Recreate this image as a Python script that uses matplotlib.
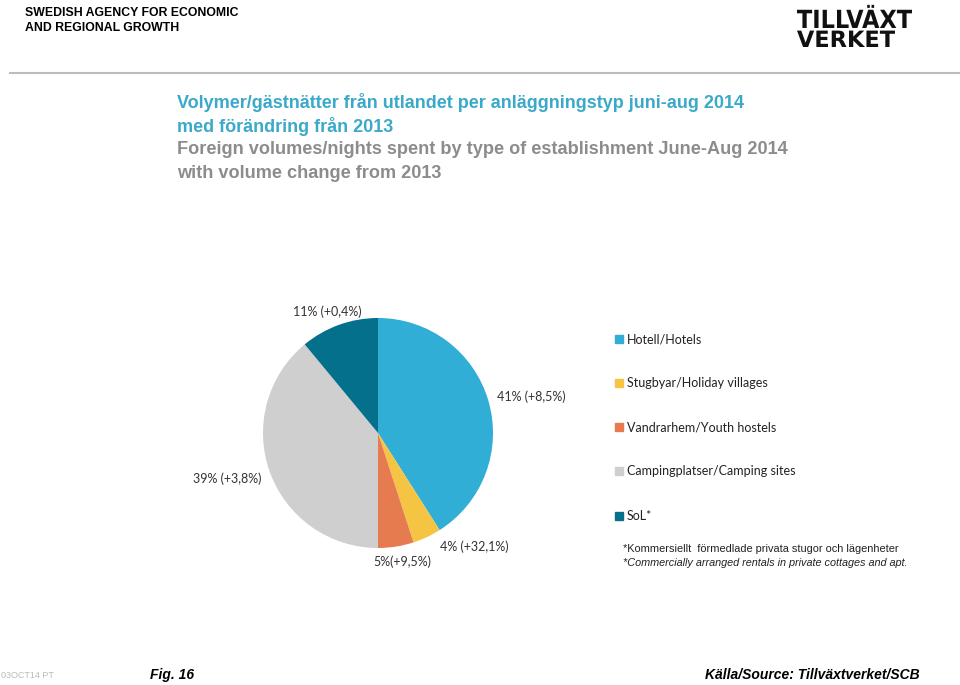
import matplotlib
matplotlib.use("Agg")
import matplotlib.pyplot as plt
from matplotlib.patches import Rectangle, PathPatch
from matplotlib.lines import Line2D
from matplotlib.textpath import TextPath
from matplotlib.font_manager import FontProperties
from matplotlib.transforms import Affine2D

# Data
categories = ["Hotell/Hotels", "Stugbyar/Holiday villages", "Vandrarhem/Youth hostels",
              "Campingplatser/Camping sites", "SoL*"]
shares = [41, 4, 5, 39, 11]
changes = ["+8,5%", "+32,1%", "+9,5%", "+3,8%", "+0,4%"]
colors = ["#31AED6", "#F6C443", "#E57B4F", "#D0CFCF", "#05708C"]

W, H = 960, 685
fig = plt.figure(figsize=(W / 100, H / 100), dpi=100)
fig.patch.set_facecolor("white")


def fx(px):
    return px / W


def fy(py):
    return 1 - py / H


body = ["Liberation Sans", "DejaVu Sans"]
calib = ["Lato", "DejaVu Sans"]

# ---- Header ----
fig.text(fx(25), fy(13), "SWEDISH AGENCY FOR ECONOMIC", family=body, fontsize=8.8,
         fontweight="bold", ha="left", va="center")
fig.text(fx(25), fy(28), "AND REGIONAL GROWTH", family=body, fontsize=8.8,
         fontweight="bold", ha="left", va="center")

# condensed logo lettering, drawn as scaled text paths
logo_prop = FontProperties(family="DejaVu Sans", weight="bold")
tp1 = TextPath((0, 0), "TILLVÄXT", size=25, prop=logo_prop)
sx = 115 / tp1.get_extents().width
for word, base, sy in [("TILLVÄXT", 28, 1.0), ("VERKET", 47, 0.9)]:
    tp = TextPath((0, 0), word, size=25, prop=logo_prop)
    x0 = tp.get_extents().x0
    tr = Affine2D().translate(-x0, 0).scale(sx, sy).translate(797, H - base)
    fig.add_artist(PathPatch(tp, transform=tr, color="#111111", lw=0))

fig.add_artist(Line2D([fx(10), fx(960)], [fy(73), fy(73)], color="#BDBDBD", lw=1.5))

# ---- Titles ----
teal = "#3BA9C9"
grey = "#8C8C8C"
fig.text(fx(177), fy(103), "Volymer/gästnätter från utlandet per anläggningstyp juni-aug 2014",
         family=body, fontsize=13, fontweight="bold", color=teal, ha="left", va="center")
fig.text(fx(177), fy(127), "med förändring från 2013",
         family=body, fontsize=13, fontweight="bold", color=teal, ha="left", va="center")
fig.text(fx(177), fy(150), "Foreign volumes/nights spent by type of establishment June-Aug 2014",
         family=body, fontsize=13.1, fontweight="bold", color=grey, ha="left", va="center")
fig.text(fx(177), fy(173), "with volume change from 2013",
         family=body, fontsize=13.1, fontweight="bold", color=grey, ha="left", va="center")

# ---- Pie ----
cx, cy, r = 378, 433, 115
half = 130
ax = fig.add_axes([fx(cx - half), fy(cy + half), 2 * half / W, 2 * half / H])
ax.pie(shares, colors=colors, startangle=90, counterclock=False, radius=1,
       wedgeprops=dict(linewidth=0))
lim = half / r
ax.set_xlim(-lim, lim)
ax.set_ylim(-lim, lim)
ax.set_aspect("auto")
ax.axis("off")

# Label positions (pixel, left edge / vertical centre)
label_pos = [(497, 397), (440, 547), (373, 562), (193, 479), (293, 312)]
for i, (px, py) in enumerate(label_pos):
    sep = "" if i == 2 else " "
    fig.text(fx(px), fy(py), f"{shares[i]}%{sep}({changes[i]})", family=calib,
             fontsize=9, ha="left", va="center", color="#333333")

# ---- Legend ----
leg_y = [339, 383, 427, 471, 516]
for c, lab, ly in zip(colors, categories, leg_y):
    fig.add_artist(Rectangle((fx(615), fy(ly + 4)), 8 / W, 8 / H, color=c,
                             transform=fig.transFigure))
    fig.text(fx(627), fy(ly), lab, family=calib, fontsize=9, ha="left", va="center",
             color="#222222")

fig.text(fx(623), fy(549), "*Kommersiellt  förmedlade privata stugor och lägenheter",
         family=body, fontsize=7.9, ha="left", va="center", color="#222222")
fig.text(fx(623), fy(563), "*Commercially arranged rentals in private cottages and apt.",
         family=body, fontsize=7.8, style="italic", ha="left", va="center", color="#222222")

# ---- Footer ----
fig.text(fx(1), fy(675), "03OCT14 PT", family=body, fontsize=6.5, color="#BBBBBB",
         ha="left", va="center")
fig.text(fx(150), fy(675), "Fig. 16", family=body, fontsize=10, fontweight="bold",
         style="italic", ha="left", va="center")
fig.text(fx(920), fy(675), "Källa/Source: Tillväxtverket/SCB", family=body, fontsize=10,
         fontweight="bold", style="italic", ha="right", va="center")

fig.savefig("out.png", dpi=100, facecolor="white")
